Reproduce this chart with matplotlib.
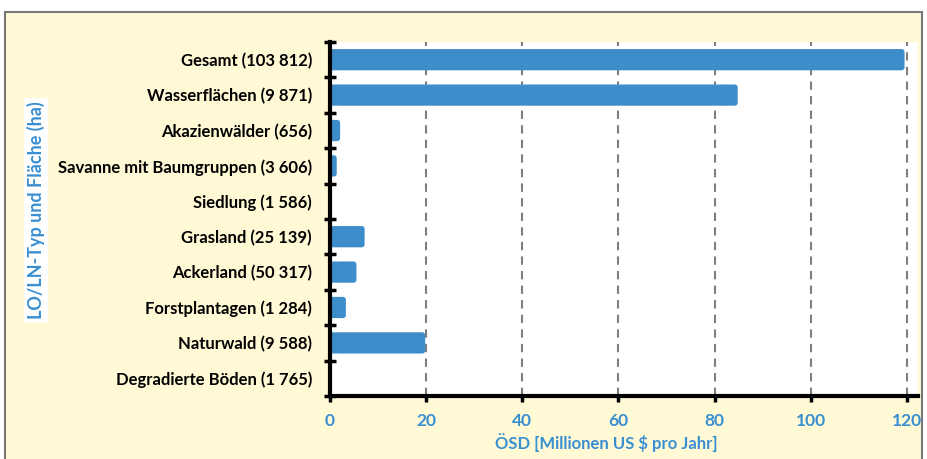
import matplotlib
matplotlib.use("Agg")
import matplotlib.pyplot as plt
from matplotlib.patches import Rectangle, FancyBboxPatch

categories = ["Gesamt (103 812)", "Wasserflächen (9 871)", "Akazienwälder (656)",
              "Savanne mit Baumgruppen (3 606)", "Siedlung (1 586)", "Grasland (25 139)",
              "Ackerland (50 317)", "Forstplantagen (1 284)", "Naturwald (9 588)",
              "Degradierte Böden (1 765)"]
values = [119.5, 84.8, 2.1, 1.4, 0.0, 7.2, 5.5, 3.3, 19.8, 0.0]
xticks = [0, 20, 40, 60, 80, 100, 120]

BLUE = "#3d8dca"
LABEL_BLUE = "#3a8fd0"
BG = "#fff9d6"

plt.rcParams['font.family'] = ['Lato', 'DejaVu Sans']

fig = plt.figure(figsize=(9.28, 4.59), dpi=100)
fig.patch.set_facecolor("white")
fig.patches.append(Rectangle((5/928, -0.01), 917/928, 1 - 12/459 + 0.01,
                             transform=fig.transFigure, facecolor=BG,
                             edgecolor="#777777", linewidth=1.5, zorder=-5))

ax = fig.add_axes([330/928, 1 - 396/459, (918-330)/928, (396-42)/459])
ax.set_zorder(2)
ax.set_facecolor("white")
n = len(categories)
ypos = list(range(n))
bars = ax.barh(ypos, values, height=0.6, color=BLUE, zorder=3)
ax.set_ylim(n - 0.5, -0.5)
ax.set_xlim(0, 122.3)

# rounded bar ends
x_px = 588 / 122.3
y_px = 354 / n
for b in bars:
    w = b.get_width()
    if w <= 0:
        continue
    x0, y0 = b.get_x(), b.get_y()
    h = b.get_height()
    b.set_visible(False)
    r = min(0.6, w / 2)
    fp = FancyBboxPatch((x0, y0), w, h, boxstyle=f"round,pad=0,rounding_size={r}",
                        mutation_aspect=x_px / y_px, facecolor=BLUE, edgecolor="none",
                        zorder=3)
    ax.add_patch(fp)

ax.set_yticks([i - 0.5 for i in range(n + 1)], minor=False)
ax.set_yticklabels([])
ax.set_yticks(ypos, minor=True)
ax.set_yticklabels(categories, minor=True, fontsize=12, fontweight="bold")
ax.tick_params(axis="y", which="minor", length=0, pad=13)
ax.tick_params(axis="y", which="major", direction="inout", length=9, width=2.5, color="black")

ax.set_xticks(xticks)
ax.set_xticklabels([str(t) for t in xticks], fontsize=12.5, fontweight="bold", color=LABEL_BLUE)
ax.tick_params(axis="x", direction="out", length=4, width=2.5, color="black", pad=8)
ax.xaxis.grid(True, linestyle=(0, (4, 3)), color="#7f7f7f", linewidth=1.5, zorder=1)
ax.set_axisbelow(True)

for s in ["top", "right"]:
    ax.spines[s].set_visible(False)
for s in ["left", "bottom"]:
    ax.spines[s].set_linewidth(3)
    ax.spines[s].set_color("black")
    ax.spines[s].set_zorder(5)

ax.set_xlabel("ÖSD [Millionen US $ pro Jahr]", fontsize=12, fontweight="bold",
              color=LABEL_BLUE)
ax.xaxis.set_label_coords((606 - 330) / 588, -(442 - 396) / 354, transform=ax.transAxes)
ax.xaxis.label.set_va("center")

fig.text(36/928, 1 - 210/459, "LO/LN-Typ und Fläche (ha)", rotation=90, ha="center", va="center",
         fontsize=13, fontweight="bold", color=LABEL_BLUE,
         bbox=dict(facecolor="white", edgecolor="none", pad=2))

fig.savefig("out.png", dpi=100)
